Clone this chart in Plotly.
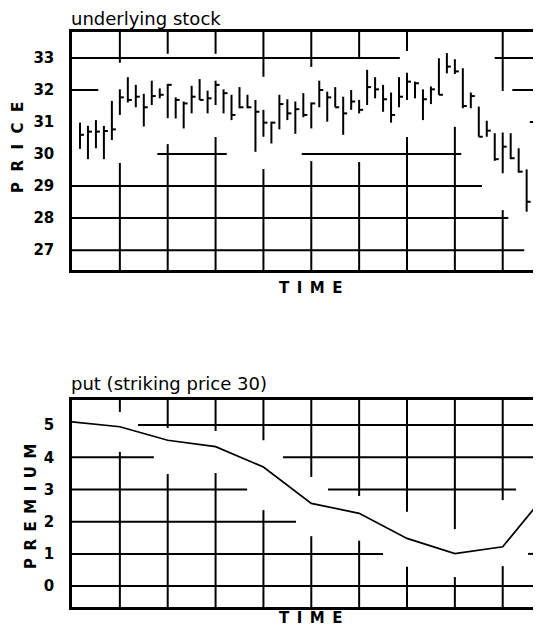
import plotly.graph_objects as go

# ---------------- data ----------------
days = list(range(1, 59))
highs = [30.98, 30.88, 31.06, 30.88, 31.66, 32.02, 32.40, 32.16, 31.88, 32.29,
         32.05, 32.19, 31.77, 31.64, 32.13, 32.34, 31.98, 32.29, 32.02, 31.85,
         32.09, 31.85, 31.69, 31.38, 31.01, 31.85, 31.71, 31.64, 31.90, 31.61,
         32.29, 31.95, 32.09, 31.79, 32.00, 31.69, 32.63, 32.40, 32.16, 31.92,
         32.40, 32.54, 32.26, 32.02, 32.11, 32.99, 33.15, 32.96, 32.68, 31.92,
         31.48, 31.04, 30.65, 30.67, 30.65, 30.18, 29.52, 28.51]
lows = [30.16, 29.84, 30.18, 29.84, 30.44, 31.22, 31.61, 31.46, 30.86, 31.53,
        31.74, 31.12, 31.11, 30.80, 31.27, 31.69, 31.27, 31.53, 31.27, 31.06,
        31.43, 31.43, 30.07, 30.54, 30.33, 30.77, 31.06, 30.63, 31.15, 30.80,
        31.46, 31.01, 31.46, 30.60, 31.38, 31.27, 31.53, 31.74, 31.32, 30.98,
        31.46, 31.69, 31.74, 31.06, 31.56, 31.85, 32.52, 32.50, 31.43, 31.43,
        30.54, 30.54, 29.79, 29.40, 29.84, 29.42, 28.20, 27.63]
closes = [30.60, 30.70, 30.70, 30.72, 30.77, 31.77, 31.69, 31.79, 31.46, 31.81,
          31.85, 32.16, 31.69, 31.58, 31.79, 31.69, 31.74, 32.16, 31.90, 31.22,
          31.46, 31.46, 31.32, 30.98, 30.98, 31.56, 31.27, 31.40, 31.22, 31.58,
          32.00, 31.77, 31.46, 31.27, 31.64, 31.38, 32.09, 32.02, 31.71, 31.22,
          31.79, 32.26, 32.21, 31.71, 32.02, 31.85, 32.73, 32.58, 31.50, 31.81,
          30.54, 30.73, 29.84, 30.23, 29.87, 29.45, 28.51, 27.68]

put_time = [0, 1, 2, 3, 4, 5, 6, 7, 8, 9, 10]
premium = [5.10, 4.95, 4.53, 4.33, 3.70, 2.57, 2.26, 1.48, 1.01, 1.22, 3.03]

price_ticks = [27, 28, 29, 30, 31, 32, 33]
premium_ticks = [0, 1, 2, 3, 4, 5]

# ---------------- layout constants ----------------
OFF = 8                      # page body margin
W, H = 541 - OFF, 635 - OFF
L = 72 - OFF
PW = W - L                   # plot width in px


def py(p):                   # page y (px) -> paper fraction
    return 1 - (p - OFF) / H


def px(p):                   # page x (px) -> paper fraction
    return (p - 72) / PW


X1 = [0, 58.8]
Y1 = [26.38, 33.81]
X2 = [0, 9.8]
Y2 = [-0.65, 5.78]
TOP_DOM = [py(270), py(32)]
BOT_DOM = [py(607), py(400)]

# broken grid segments (decoration only)
top_h = {33: [(0, 41.1), (53.0, X1[1])], 32: [(0, 3.3), (55.2, X1[1])],
         31: [(57.4, X1[1])], 30: [(10.7, 19.4), (28.8, 48.8), (58.3, X1[1])],
         29: [(0, 51.4)], 28: [(0, 54.7)], 27: [(0, 56.7)]}
top_v = {6: [(32.85, Y1[1]), (Y1[0], 29.72)], 12: [(33.13, Y1[1]), (Y1[0], 30.31)],
         18: [(33.13, Y1[1]), (Y1[0], 30.53)], 24: [(32.41, Y1[1]), (Y1[0], 29.53)],
         30: [(32.72, Y1[1]), (Y1[0], 29.78)], 36: [(32.97, Y1[1]), (Y1[0], 29.75)],
         42: [(33.22, Y1[1]), (Y1[0], 30.53)], 48: [(Y1[0], 30.85)],
         54: [(31.97, Y1[1]), (Y1[0], 28.25)]}
bot_h = {5: [(1.38, X2[1])], 4: [(0, 1.71), (4.41, X2[1])], 3: [(0, 3.66), (5.35, 9.28)],
         2: [(0, 4.68)], 1: [(0, 6.50), (9.53, X2[1])], 0: [(0, X2[1])]}
bot_v = {1: [(5.41, Y2[1]), (Y2[0], 4.17)], 2: [(4.91, Y2[1]), (Y2[0], 3.48)],
         3: [(4.82, Y2[1]), (Y2[0], 3.51)], 4: [(4.53, Y2[1]), (Y2[0], 2.36)],
         5: [(3.39, Y2[1]), (Y2[0], 1.55)], 6: [(2.80, Y2[1]), (Y2[0], 1.41)],
         7: [(2.31, Y2[1]), (Y2[0], 0.60)], 8: [(1.77, Y2[1]), (Y2[0], 0.28)],
         9: [(2.67, Y2[1]), (Y2[0], 0.62)]}

shapes = []
GRID = dict(color="black", width=2)
for xr, yr, hd, vd in (("x", "y", top_h, top_v), ("x2", "y2", bot_h, bot_v)):
    for yv, segs in hd.items():
        for a, b in segs:
            shapes.append(dict(type="line", xref=xr, yref=yr, x0=a, x1=b, y0=yv, y1=yv,
                               line=GRID, layer="below"))
    for xv, segs in vd.items():
        for a, b in segs:
            shapes.append(dict(type="line", xref=xr, yref=yr, x0=xv, x1=xv, y0=a, y1=b,
                               line=GRID, layer="below"))

# ---------------- traces ----------------
bx, by = [], []
for d, h, l, c in zip(days, highs, lows, closes):
    bx += [d, d, None, d, d + 0.5, None]
    by += [l, h, None, c, c, None]

fig = go.Figure()
fig.add_trace(go.Scatter(x=bx, y=by, mode="lines", line=dict(color="black", width=2),
                         xaxis="x", yaxis="y", hoverinfo="skip", showlegend=False))
fig.add_trace(go.Scatter(x=put_time, y=premium, mode="lines", line=dict(color="black", width=1.7),
                         xaxis="x2", yaxis="y2", showlegend=False))

TICKF = dict(family="DejaVu Sans", size=15, color="black", weight="bold")
axis_common = dict(showgrid=False, zeroline=False, showline=True, linecolor="black", linewidth=2.5)

fig.update_layout(
    width=W, height=H,
    margin=dict(l=L, r=0, t=0, b=0),
    paper_bgcolor="white", plot_bgcolor="white",
    shapes=shapes,
    xaxis=dict(domain=[0, 1], range=X1, anchor="y", showticklabels=False, ticks="",
               mirror=True, **axis_common),
    yaxis=dict(domain=TOP_DOM, range=Y1, anchor="x", tickvals=price_ticks,
               ticktext=[str(v) for v in price_ticks], tickfont=TICKF, ticks="",
               ticklabelstandoff=12, **axis_common),
    xaxis2=dict(domain=[0, 1], range=X2, anchor="y2", showticklabels=False, ticks="",
                mirror=True, **axis_common),
    yaxis2=dict(domain=BOT_DOM, range=Y2, anchor="x2", tickvals=premium_ticks,
                ticktext=[str(v) for v in premium_ticks], tickfont=TICKF, ticks="",
                ticklabelstandoff=12, **axis_common),
)

TITLEF = dict(family="DejaVu Sans", size=18, color="black")
LABF = dict(family="DejaVu Sans", size=15, color="black", weight="bold")
nb = "\u00a0"
en = "\u2002"
anns = [
    dict(text="underlying stock", x=px(70), y=py(18.5), xanchor="left", yanchor="middle",
         font=TITLEF, borderpad=0),
    dict(text="put (striking price 30)", x=px(70), y=py(384), xanchor="left", yanchor="middle",
         font=TITLEF, borderpad=0),
    dict(text=en.join("TIME"), x=px(311), y=py(288), xanchor="center", yanchor="middle", font=LABF),
    dict(text=en.join("TIME"), x=px(311), y=py(618), xanchor="center", yanchor="middle", font=LABF),
    dict(text=(nb * 2).join("PRICE"), x=px(18), y=py(148), xanchor="center", yanchor="middle",
         textangle=-90, font=LABF),
    dict(text=en.join("PREMIUM"), x=px(31), y=py(507), xanchor="center", yanchor="middle",
         textangle=-90, font=LABF),
]
for a in anns:
    a.update(xref="paper", yref="paper", showarrow=False)
fig.update_layout(annotations=anns)

fig.write_html("out.html")
